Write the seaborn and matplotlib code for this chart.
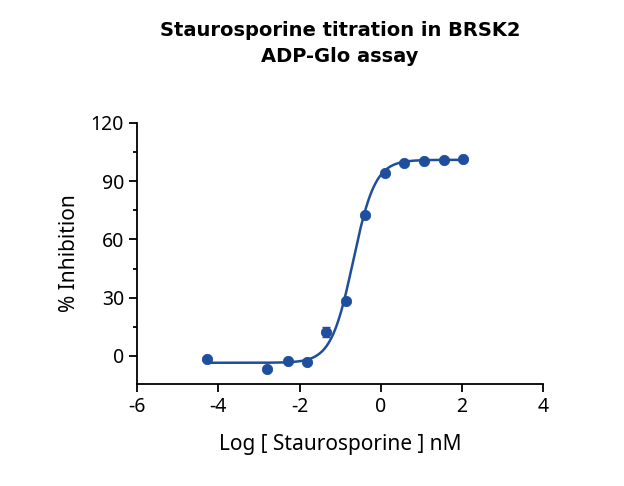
import numpy as np
import pandas as pd
import seaborn as sns
import matplotlib.pyplot as plt

sns.set_theme(style='ticks')
plt.rcParams['font.family'] = ['Noto Sans', 'DejaVu Sans']
plt.rcParams['axes.unicode_minus'] = False
plt.rcParams['text.color'] = 'black'
plt.rcParams['axes.labelcolor'] = 'black'
plt.rcParams['xtick.color'] = 'black'
plt.rcParams['ytick.color'] = 'black'

# data
log_conc = [-4.29, -2.79, -2.29, -1.82, -1.35, -0.86, -0.39, 0.10, 0.57, 1.06, 1.55, 2.02]
inhibition = [-1.5, -6.5, -2.6, -3.1, 12.5, 28.3, 72.7, 94.3, 99.5, 100.5, 101.0, 101.5]
err = [0, 0, 0, 0, 2.5, 0, 0, 0, 0, 0, 0, 0]

# fitted 4PL curve parameters (estimated)
bottom, top, log_ic50, hill = -3.5, 101.0, -0.68, 1.6

color = '#1f4e9c'
df = pd.DataFrame({'x': log_conc, 'y': inhibition})
xs = np.linspace(min(log_conc), max(log_conc), 300)
curve = pd.DataFrame({'x': xs, 'y': bottom + (top - bottom) / (1 + 10 ** ((log_ic50 - xs) * hill))})

fig = plt.figure(figsize=(6.24, 4.86), dpi=100)
ax = fig.add_axes([0.22, 0.21, 0.65, 0.537])
sns.lineplot(data=curve, x='x', y='y', color=color, lw=1.8, ax=ax)
ax.errorbar(log_conc, inhibition, yerr=err, fmt='none', ecolor=color, capsize=3, lw=1.2)
sns.scatterplot(data=df, x='x', y='y', color=color, s=55, edgecolor=color, ax=ax, zorder=3)

ax.set_xlim(-6, 4)
ax.set_ylim(-14.4, 120)
ax.set_xticks([-6, -4, -2, 0, 2, 4])
ax.set_yticks([0, 30, 60, 90, 120])
ax.set_yticks([15, 45, 75, 105], minor=True)
ax.tick_params(axis='both', labelsize=14, width=1.3, length=6, color='black')
ax.tick_params(axis='y', which='minor', width=1.3, length=3)
for s in ['left', 'bottom']:
    ax.spines[s].set_linewidth(1.3)
    ax.spines[s].set_color('black')
sns.despine(ax=ax)
ax.set_xlabel('Log [ Staurosporine ] nM', fontsize=15, labelpad=12)
ax.set_ylabel('% Inhibition', fontsize=15, labelpad=8)
fig.text(0.545, 0.91, 'Staurosporine titration in BRSK2\nADP-Glo assay', fontsize=14,
         fontweight='bold', family=['DejaVu Sans'], ha='center', va='center',
         linespacing=1.5)
fig.savefig('out.png', dpi=100)
